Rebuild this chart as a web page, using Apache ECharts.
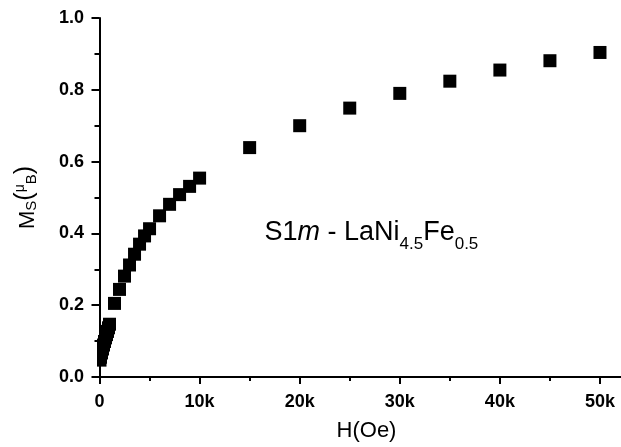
<!DOCTYPE html>
<html>
<head>
<meta charset="utf-8">
<script src="https://cdn.jsdelivr.net/npm/echarts@6/dist/echarts.min.js"></script>
<style>html,body{margin:0;padding:0;background:#fff;}#c{width:621px;height:447px;}</style>
</head>
<body>
<div id="c"></div>
<script>
// Field H (Oe)
var fieldH = [50,100,200,300,400,500,600,700,800,900,1000,1500,2000,2500,3000,3500,4000,4500,5000,6000,7000,8000,9000,10000,15000,20000,25000,30000,35000,40000,45000,50000];
// Magnetization Ms (muB)
var momentMs = [0.047,0.055,0.067,0.078,0.089,0.099,0.109,0.118,0.127,0.137,0.147,0.205,0.244,0.281,0.312,0.342,0.370,0.393,0.413,0.449,0.481,0.508,0.531,0.554,0.639,0.700,0.749,0.790,0.824,0.855,0.881,0.904];
var xTicks = [0,10000,20000,30000,40000,50000];
var xTickLabels = ['0','10k','20k','30k','40k','50k'];
var xMinorTicks = [5000,15000,25000,35000,45000];
var yTicks = [0,0.2,0.4,0.6,0.8,1.0];
var yTickLabels = ['0.0','0.2','0.4','0.6','0.8','1.0'];

var FONT = '"Liberation Sans", Arial, sans-serif';
var data = fieldH.map(function(h,i){return [h, momentMs[i]];});

var chart = echarts.init(document.getElementById('c'), null, {renderer:'canvas'});
chart.setOption({
  animation:false,
  backgroundColor:'#fff',
  grid:{left:98, right:0, top:18, bottom:63.5, containLabel:false},
  title:{
    left:264.5, top:218.8, padding:0,
    text:'{a|S1}{i|m}{a| - LaNi}{s|4.5}{a|Fe}{s|0.5}',
    textStyle:{
      fontFamily:FONT, fontWeight:'normal',
      rich:{
        a:{fontSize:27, lineHeight:27, verticalAlign:'top', fontWeight:'normal', color:'#000', fontFamily:FONT},
        i:{fontSize:27, lineHeight:27, verticalAlign:'top', fontWeight:'normal', fontStyle:'italic', color:'#000', fontFamily:FONT},
        s:{fontSize:17, lineHeight:34, verticalAlign:'bottom', fontWeight:'normal', color:'#000', fontFamily:FONT}
      }
    }
  },
  xAxis:[{
    type:'value', min:-150, max:52100, z:10, position:'bottom',
    axisLine:{show:true, onZero:false, lineStyle:{color:'#000', width:2}},
    axisTick:{show:true, customValues:xTicks, length:7, lineStyle:{color:'#000', width:2}},
    axisLabel:{customValues:xTicks, color:'#000', fontSize:18, fontWeight:'bold', fontFamily:FONT, margin:16,
      formatter:function(v){var i=xTicks.indexOf(v);return i>=0?xTickLabels[i]:'';}},
    splitLine:{show:false},
    name:'H(Oe)', nameLocation:'middle', nameGap:43,
    nameTextStyle:{color:'#000', fontSize:22, fontFamily:FONT, padding:[0,0,0,14]}
  },{
    type:'value', min:-150, max:52100, z:10, position:'bottom',
    axisLine:{show:false},
    axisTick:{show:true, customValues:xMinorTicks, length:4, lineStyle:{color:'#000', width:2}},
    axisLabel:{show:false},
    splitLine:{show:false}
  }],
  yAxis:{
    type:'value', min:0, max:1, interval:0.2, z:10,
    axisLine:{show:true, lineStyle:{color:'#000', width:2}},
    axisTick:{show:true, length:8, lineStyle:{color:'#000', width:2}},
    minorTick:{show:true, splitNumber:2, length:5, lineStyle:{color:'#000', width:2}},
    splitLine:{show:false}, minorSplitLine:{show:false},
    axisLabel:{color:'#000', fontSize:18, fontWeight:'bold', fontFamily:FONT, margin:14,
      formatter:function(v){var i=yTicks.findIndex(function(t){return Math.abs(t-v)<1e-9;});return i>=0?yTickLabels[i]:'';}},
    name:'{m|M}{sub|S}{p|(}{mu|μ}{sub|B}{p|)}',
    nameLocation:'middle', nameRotate:90, nameGap:59,
    nameTextStyle:{
      fontFamily:FONT,
      rich:{
        m:{fontSize:22, lineHeight:26, verticalAlign:'bottom', color:'#000', fontFamily:FONT},
        sub:{fontSize:15, lineHeight:26, verticalAlign:'bottom', color:'#000', fontFamily:FONT},
        mu:{fontSize:14, lineHeight:14, verticalAlign:'top', color:'#000', fontFamily:FONT},
        p:{fontSize:25, lineHeight:25, verticalAlign:'top', color:'#000', fontFamily:FONT}
      }
    }
  },
  graphic:[{
    type:'rect', z:5, silent:true,
    shape:{x:84, y:300, width:13, height:82},
    style:{fill:'#fff'}
  }],
  series:[{
    type:'scatter', xAxisIndex:0, yAxisIndex:0, z:2, clip:false,
    symbol:'rect', symbolSize:13,
    itemStyle:{color:'#000', opacity:1},
    data:data
  }]
});
</script>
</body>
</html>
